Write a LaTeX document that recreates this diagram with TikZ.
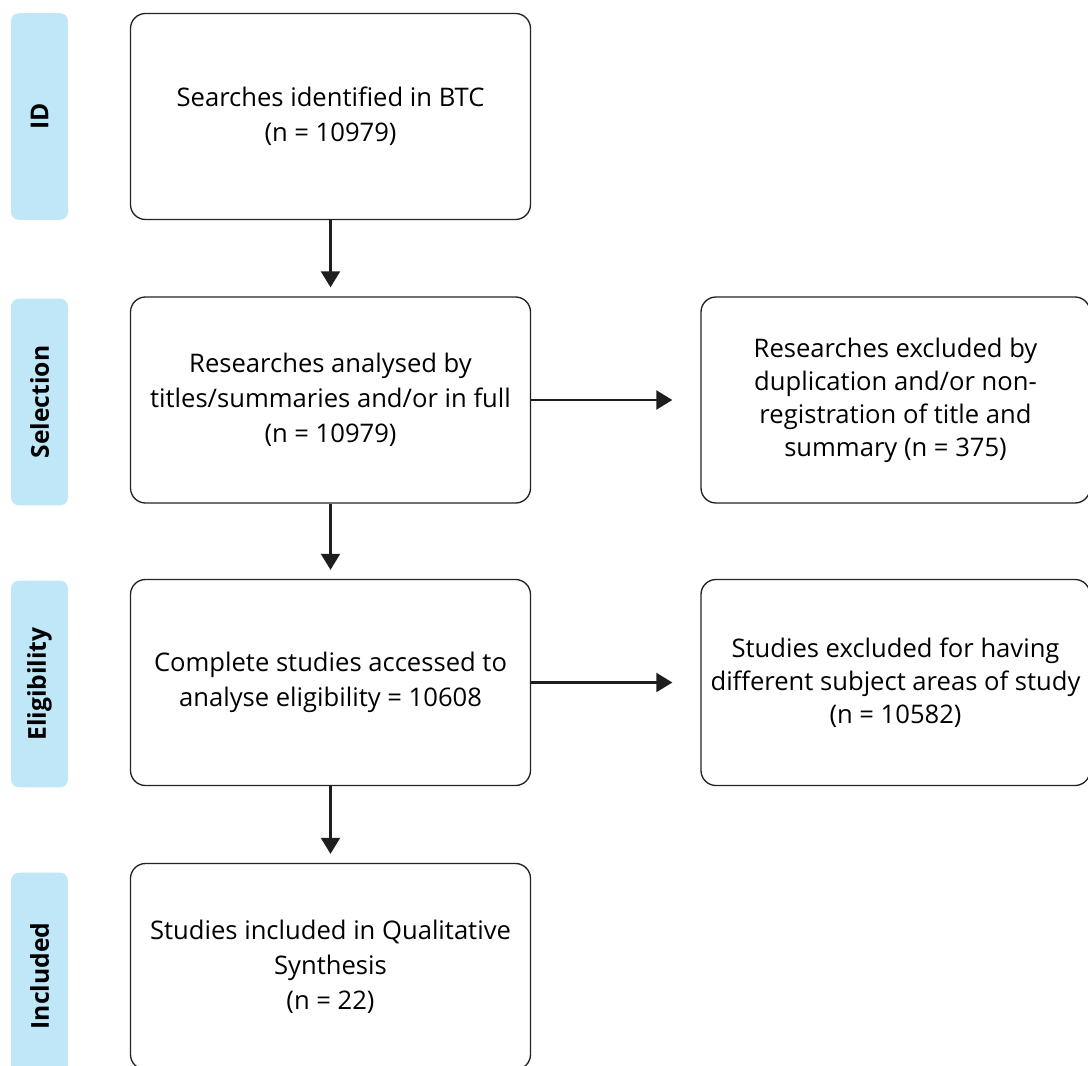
\documentclass[tikz,border=0pt]{standalone}
\usepackage{fontspec}
\setmainfont{Open Sans}
\usetikzlibrary{arrows.meta}
\definecolor{barblue}{RGB}{191,231,248}
\definecolor{boxline}{RGB}{35,35,35}
\definecolor{arrowcol}{RGB}{30,30,30}
\begin{document}
\begin{tikzpicture}[x=0.75pt,y=-0.75pt,
  stagebox/.style={draw=boxline, line width=1pt, rounded corners=11.25pt,
    minimum width=300pt, minimum height=154.5pt, align=center,
    font=\fontsize{19.2}{26.25}\selectfont, inner sep=0pt},
  sidebox/.style={draw=boxline, line width=1pt, rounded corners=11.25pt,
    minimum width=291.75pt, minimum height=154.5pt, align=center,
    font=\fontsize{19.2}{24.75}\selectfont, inner sep=0pt},
  phasebar/.style={fill=barblue, rounded corners=6pt, rotate=90,
    minimum width=155pt, minimum height=42.75pt, inner sep=0pt,
    font=\bfseries\fontsize{18.5}{22}\selectfont},
  flowarrow/.style={draw=arrowcol, line width=1.6pt,
    -{Triangle[length=12pt,width=14.25pt]}}
]
\useasboundingbox (0,0) rectangle (1088,1066);
\clip (0,0) rectangle (1088,1066);

% phase bars
\node[phasebar] (pid)  at (39.5,116.5) {ID};
\node[phasebar] (psel) at (39.5,402) {Selection};
\node[phasebar] (pel)  at (39.5,684) {Eligibility};
\node[phasebar] (pinc) at (39.5,976) {Included};

% main boxes
\node[stagebox] (b1) at (330.5,116.5) {Searches identified in BTC\\(n = 10979)};
\node[stagebox] (b2) at (330.5,400) {Researches analysed by\\titles/summaries and/or in full\\(n = 10979)};
\node[stagebox] (b3) at (330.5,682.5) {Complete studies accessed to\\analyse eligibility = 10608};
\node[stagebox] (b4) at (330.5,966.5) {Studies included in Qualitative\\Synthesis\\(n = 22)};

% side boxes
\node[sidebox] (b5) at (895.5,400) {Researches excluded by\\duplication and/or non-\\registration of title and\\summary (n = 375)};
\node[sidebox] (b6) at (895.5,682.5) {Studies excluded for having\\different subject areas of study\\(n = 10582)};

% arrows
\draw[flowarrow, shorten >=6.75pt] (b1) -- (b2);
\draw[flowarrow, shorten >=6.75pt] (b2) -- (b3);
\draw[flowarrow, shorten >=6.75pt] (b3) -- (b4);
\draw[flowarrow, shorten >=21pt] (b2) -- (b5);
\draw[flowarrow, shorten >=21pt] (b3) -- (b6);
\end{tikzpicture}
\end{document}
